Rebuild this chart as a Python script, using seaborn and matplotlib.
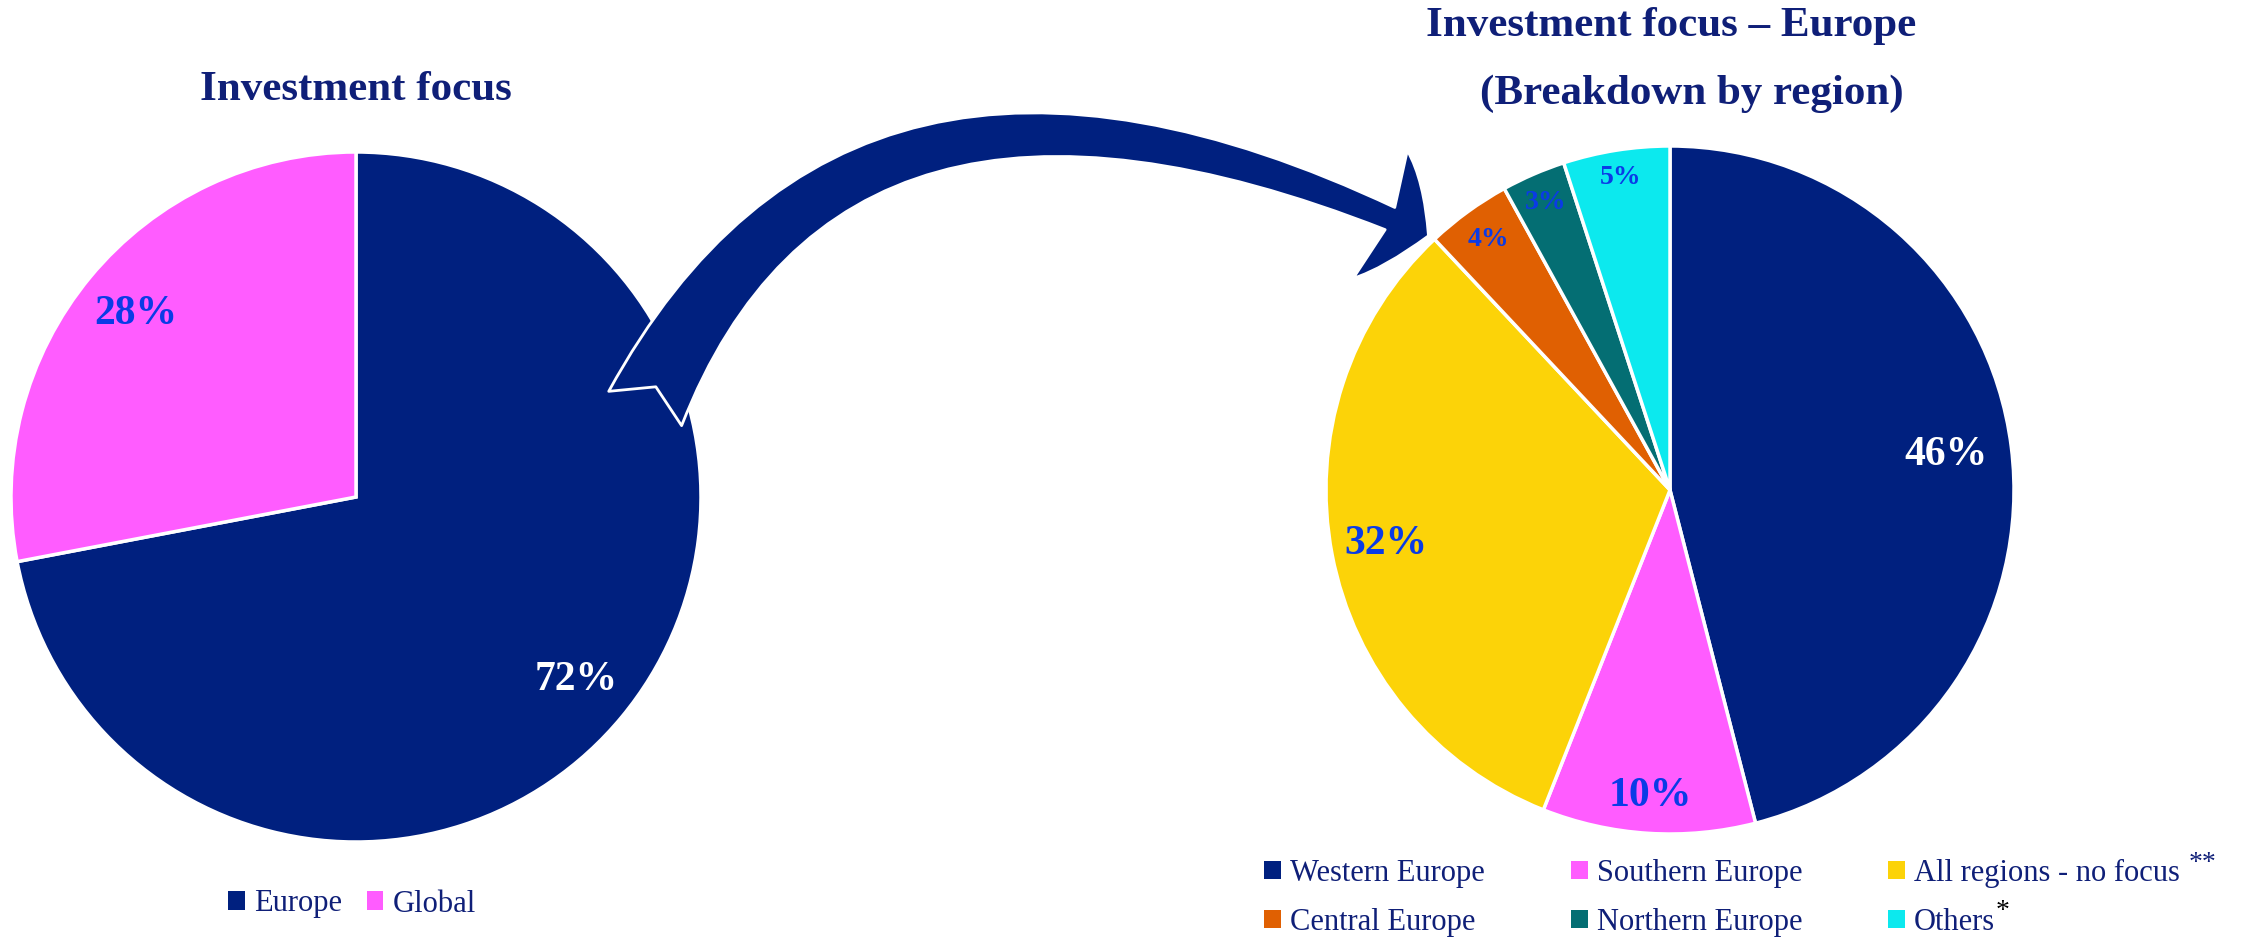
import matplotlib
matplotlib.use("Agg")
import matplotlib.pyplot as plt
import seaborn as sns
import numpy as np
from matplotlib.patches import Patch, FancyArrowPatch, ArrowStyle

# Data
focus_labels = ["Europe", "Global"]
focus_values = [72, 28]
region_labels = ["Western Europe", "Southern Europe", "All regions - no focus",
                 "Central Europe", "Northern Europe", "Others"]
region_values = [46, 10, 32, 4, 3, 5]

navy = "#00207F"
title_col = "#0F1F78"
pct_blue = "#0A3BE6"
focus_colors = [navy, "#FF5CFF"]
region_colors = [navy, "#FF5CFF", "#FCD308", "#E06002", "#046E73", "#0CE9EE"]

sns.set_theme(style="white")
plt.rcParams['font.family'] = ['Liberation Serif', 'DejaVu Serif']

W, H = 2261, 942
fig = plt.figure(figsize=(W / 100, H / 100), dpi=100)


def pie_axes(cx, cy, r):
    # cx, cy in pixels from top-left
    return fig.add_axes([(cx - r) / W, (H - cy - r) / H, 2 * r / W, 2 * r / H])


# Left pie
ax1 = pie_axes(356, 497, 345)
wedges1, _, auto1 = ax1.pie(focus_values, colors=focus_colors, startangle=90, counterclock=False,
                            autopct=lambda p: f"{p:.0f}%", pctdistance=0.83,
                            wedgeprops=dict(edgecolor="white", linewidth=2.5))
for t, c in zip(auto1, ["white", pct_blue]):
    t.set_color(c)
    t.set_fontsize(30)
    t.set_fontweight("bold")
ax1.set_xlim(-1, 1)
ax1.set_ylim(-1, 1)
ax1.axis("off")

# Right pie
ax2 = pie_axes(1670, 490, 344)
wedges2, _, auto2 = ax2.pie(region_values, colors=region_colors, startangle=90, counterclock=False,
                            autopct=lambda p: f"{p:.0f}%", pctdistance=1.0,
                            wedgeprops=dict(edgecolor="white", linewidth=2.5))
dists = [0.81, 0.89, 0.84, 0.90, 0.91, 0.92]
for t, d, v in zip(auto2, dists, region_values):
    x, y = t.get_position()
    t.set_position((x * d, y * d))
    t.set_color("white" if v == 46 else pct_blue)
    t.set_fontsize(30 if v >= 10 else 20)
    t.set_fontweight("bold")
ax2.set_xlim(-1, 1)
ax2.set_ylim(-1, 1)
ax2.axis("off")

# Titles
fig.text(356 / W, 1 - 90 / H, "Investment focus", ha="center", va="center",
         fontsize=31, fontweight="bold", color=title_col)
fig.text(1671 / W, 1 - 26 / H, "Investment focus \u2013 Europe", ha="center", va="center",
         fontsize=31, fontweight="bold", color=title_col)
fig.text(1692 / W, 1 - 94 / H, "(Breakdown by region)", ha="center", va="center",
         fontsize=31, fontweight="bold", color=title_col)

# Curved arrow between the pies (tapering tail)
arrow = FancyArrowPatch((644 / W, 1 - 411 / H), (1431 / W, 1 - 237 / H),
                        transform=fig.transFigure,
                        connectionstyle="angle3,angleA=65,angleB=-25",
                        arrowstyle=ArrowStyle.Fancy(head_length=38, head_width=100, tail_width=58),
                        mutation_scale=1, facecolor=navy, edgecolor="white", linewidth=2, zorder=5)
fig.patches.append(arrow)

# Legends
h1 = [Patch(facecolor=c, edgecolor="none") for c in focus_colors]
fig.legend(h1, focus_labels, loc="center", bbox_to_anchor=(352 / W, 38 / H), ncol=2,
           frameon=False, fontsize=22, labelcolor=title_col, handlelength=0.55, handleheight=0.55,
           handletextpad=0.3, columnspacing=0.8)

order = [0, 3, 1, 4, 2, 5]
h2 = [Patch(facecolor=region_colors[i], edgecolor="none") for i in order]
fig.legend(h2, [region_labels[i] for i in order], loc="center", bbox_to_anchor=(1722 / W, 44 / H),
           ncol=3, frameon=False, fontsize=22, labelcolor=title_col, handlelength=0.55,
           handleheight=0.55, handletextpad=0.3, columnspacing=2.8, labelspacing=0.65)
fig.text(2203 / W, 1 - 864 / H, "**", ha="center", va="center", fontsize=20, color=title_col)
fig.text(2003 / W, 1 - 912 / H, "*", ha="center", va="center", fontsize=20, color="black")

fig.savefig("out.png", dpi=100)
